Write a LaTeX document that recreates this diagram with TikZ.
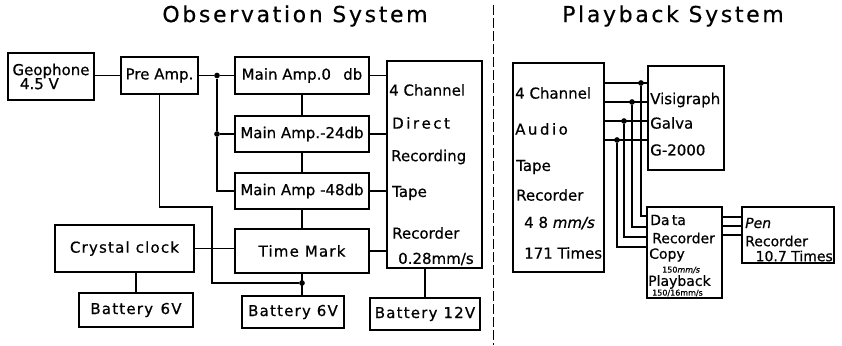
\documentclass[tikz,border=0pt]{standalone}
\usepackage{fontspec}
\setmainfont{DejaVu Sans}[FakeBold=0.6]
\newfontfamily\spacedfont{DejaVu Sans}[LetterSpace=8, FakeBold=0.6]
\newfontfamily\titlefont{DejaVu Sans}[LetterSpace=12, FakeBold=0.4]
\usetikzlibrary{positioning}

\begin{document}
\begin{tikzpicture}[x=1pt, y=-1pt,
          blk/.style={draw, line width=1.3pt, inner sep=0pt, align=left,
                      font=\fontsize{15}{16}\selectfont},
          wide/.style={blk, font=\fontsize{15}{16}\selectfont\spacedfont},
          lbl/.style={anchor=west, inner sep=0pt, font=\fontsize{15}{16}\selectfont},
          small/.style={anchor=west, inner sep=0pt, font=\fontsize{8}{9}\selectfont},
          dot/.style={circle, fill, inner sep=2pt},
          wire/.style={line width=1.3pt}
        ]
        \useasboundingbox (0,0) rectangle (842,345);

        % titles and the dividing line
        \node[font=\fontsize{22}{24}\selectfont\titlefont] (obs)  at (295,16) {Observation System};
        \node[font=\fontsize{22}{24}\selectfont\titlefont] (play) at (673,16) {Playback System};
        \coordinate (sepTop) at (493,5);
        \coordinate (sepBot) at (493,345);
        \draw[line width=0.9pt, dash pattern=on 10pt off 3pt] (sepTop) -- (sepBot);

        % observation system
        \node[blk, minimum width=86pt, minimum height=47pt] (geo) at (51,76.5)
              {Geophone\\[-2pt]\hspace*{0.5em}4.5 V};
        \node[blk, minimum width=77pt, minimum height=37pt] (pre) at (159.5,75.5) {Pre Amp.};
        \node[blk, minimum width=134pt, minimum height=37pt] (main0)  at (302,75.5) {Main Amp.0\enspace\ db};
        \node[blk, minimum width=134pt, minimum height=36pt] (main24) at (302,134)  {Main Amp.-24db};
        \node[blk, minimum width=134pt, minimum height=36pt] (main48) at (302,191)  {Main Amp -48db};
        \node[wide, minimum width=134pt, minimum height=44pt] (tmark) at (302,251) {Time Mark};
        \node[wide, minimum width=139pt, minimum height=47pt] (clock) at (124.5,248.5) {Crystal clock};
        \node[wide, minimum width=114pt, minimum height=34pt] (batA) at (136,310) {Battery\enspace 6V};
        \node[wide, minimum width=102pt, minimum height=32pt] (batB) at (293,312) {Battery 6V};
        \node[wide, minimum width=110pt, minimum height=32pt] (bat12) at (425,314) {Battery 12V};
        \node[blk, minimum width=95pt, minimum height=207pt] (rec) at (434.5,164.5) {};

        \node[lbl] (rec1) at (389,90)  {4 Channel};
        \node[lbl] (rec2) at (392,123) {D\,i\,r\,e\,c\,t};
        \node[lbl] (rec3) at (391,157) {Recording};
        \node[lbl] (rec4) at (392,193) {Tape};
        \node[lbl] (rec5) at (392,233) {Recorder};
        \node[lbl] (rec6) at (398,259) {0.28mm/s};

        \coordinate (bus) at (217,0);
        \node[dot] (d0)  at (main0.west -| bus) {};
        \node[dot] (d24) at (main24.west -| bus) {};
        \draw[wire] (pre.west) -- (pre.west -| geo.east);
        \draw[wire] (pre.east) -- (d0) -- (main0.west);
        \draw[wire] (d0) -- (d24) -- (main24.west);
        \draw[wire] (d24) |- (main48.west);

        \draw[wire] (main0) -- (main24);
        \draw[wire] (main24) -- (main48);
        \draw[wire] (main48) -- (tmark);
        \draw[wire] (clock.east) -- (clock.east -| tmark.west);
        \draw[wire] (batA.north) -- (batA.north |- clock.south);

        % power line from the pre amp
        \coordinate (pw1) at (212,207);
        \coordinate (pw2) at (212,283);
        \node[dot] (d6) at (pw2 -| tmark.south) {};
        \draw[wire] (pre.south) |- (pw1) -- (pw2) -- (d6);
        \draw[wire] (tmark.south) -- (tmark.south |- batB.north);

        \foreach \n in {main0, main24, main48, tmark}
          \draw[wire] (\n.east) -- (\n.east -| rec.west);
        \draw[wire] (bat12.north) -- (bat12.north |- rec.south);

        % playback system
        \node[blk, minimum width=91pt, minimum height=209pt] (tape) at (558.5,167.5) {};
        \node[lbl] (tape1) at (515,93)  {4 Channel};
        \node[lbl] (tape2) at (515,129) {A\,u\,d\,i\,o};
        \node[lbl] (tape3) at (516,167) {Tape};
        \node[lbl] (tape4) at (516,195) {Recorder};
        \node[lbl] (tape5) at (524,223) {4 8 \textit{mm/s}};
        \node[lbl] (tape6) at (524,253) {171 Times};

        \node[blk, minimum width=76pt, minimum height=104pt] (visi) at (686,118) {};
        \node[lbl] (visi1) at (650,100) {Visigraph};
        \node[lbl] (visi2) at (650,123) {Galva};
        \node[lbl] (visi3) at (650,150) {G-2000};

        \node[blk, minimum width=75pt, minimum height=91pt] (data) at (684.5,252.5) {};
        \node[lbl, font=\fontsize{14}{15}\selectfont] (data1) at (650,220) {Da\,ta};
        \node[lbl, font=\fontsize{14}{15}\selectfont] (data2) at (652,238) {Recorder};
        \node[lbl, font=\fontsize{14}{15}\selectfont] (data3) at (649,255) {Copy};
        \node[small] (data4) at (662,270) {150\textit{mm/s}};
        \node[lbl, font=\fontsize{14}{15}\selectfont] (data5) at (648,282) {Playback};
        \node[small] (data6) at (652,293) {150/16mm/s};

        \node[blk, minimum width=92pt, minimum height=56pt] (pen) at (788,235) {};
        \node[lbl, font=\fontsize{14}{15}\selectfont\itshape] (pen1) at (745,223) {Pen};
        \node[lbl, font=\fontsize{14}{15}\selectfont] (pen2) at (745,241) {Recorder};
        \node[lbl, font=\fontsize{14}{15}\selectfont, anchor=east] (pen3) at (833,256) {10.7 Times};

        \foreach \y/\x/\yy [count=\i] in {83/641/216, 102/632/227, 121/624/237, 140/617/247} {
          \node[dot] (p\i) at (\x,\y) {};
          \coordinate (q\i) at (\x,\yy);
          \draw[wire] (tape.east |- p\i) -- (visi.west |- p\i);
          \draw[wire] (p\i) -- (q\i) -- (data.west |- q\i);
        }
        \foreach \y [count=\i] in {217, 226, 235} {
          \coordinate (r\i) at (0,\y);
          \draw[wire] (data.east |- r\i) -- (pen.west |- r\i);
        }
      \end{tikzpicture}
\end{document}
